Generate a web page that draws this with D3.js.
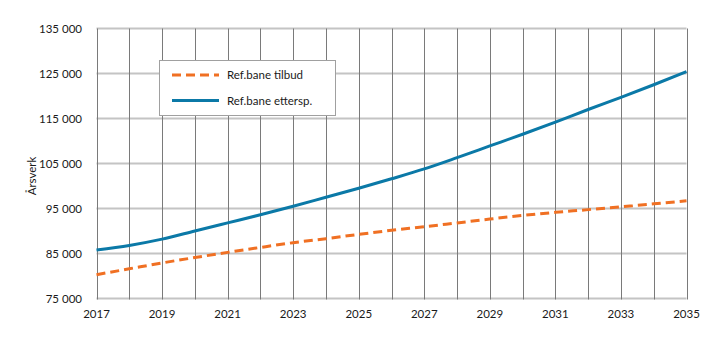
<!DOCTYPE html>
<html><head><meta charset="utf-8">
<script src="https://cdn.jsdelivr.net/npm/d3@7"></script>
<style>body{margin:0;background:#fff}svg{display:block}text{font-family:Lato,"Open Sans",sans-serif;fill:#1a1a1a}</style>
</head><body><svg id="c" width="719" height="341"></svg>
<script>
const years = d3.range(2017, 2036);
const tilbud = [80300,81600,82900,84100,85250,86350,87400,88300,89250,90150,90950,91800,92650,93450,94150,94750,95400,96050,96700];
const ettersp = [85800,86800,88200,90000,91800,93600,95500,97500,99500,101600,103800,106300,108900,111500,114200,117000,119700,122500,125400];
const yTicks = [75000,85000,95000,105000,115000,125000,135000];
const xTickLabels = [2017,2019,2021,2023,2025,2027,2029,2031,2033,2035];
const seriesNames = ["Ref.bane tilbud","Ref.bane ettersp."];

const svg = d3.select("#c");
const x = d3.scaleLinear().domain([2017,2035]).range([96.5,686.5]);
const y = d3.scaleLinear().domain([75000,135000]).range([298.5,28.5]);
const fmt = v => d3.format(",")(v).replace(/,/g," ");

const g = svg.append("g");
g.selectAll("line.h").data(yTicks).join("line")
  .attr("x1",x(2017)).attr("x2",x(2035)).attr("y1",d=>y(d)).attr("y2",d=>y(d))
  .attr("stroke","#c4c4c4").attr("stroke-width",2);
g.selectAll("line.v").data(years).join("line")
  .attr("x1",d=>Math.round(x(d))+0.5).attr("x2",d=>Math.round(x(d))+0.5).attr("y1",y(135000)).attr("y2",y(75000)+1)
  .attr("stroke","#7a7a7a").attr("stroke-width",1);

g.selectAll("text.y").data(yTicks).join("text")
  .attr("x",82).attr("y",d=>y(d)).attr("dy","0.35em").attr("text-anchor","end")
  .attr("font-size",11.5).text(fmt);
g.selectAll("text.x").data(xTickLabels).join("text")
  .attr("x",d=>x(d)).attr("y",318).attr("text-anchor","middle")
  .attr("font-size",11.5).text(d=>d);
svg.append("text").attr("transform","translate(36,176) rotate(-90)")
  .attr("text-anchor","middle").attr("font-size",11.5).text("Årsverk");

const line = d3.line().x((d,i)=>x(years[i])).y(d=>y(d)).curve(d3.curveMonotoneX);
svg.append("path").attr("d",line(tilbud)).attr("fill","none")
  .attr("stroke","#f07023").attr("stroke-width",3).attr("stroke-dasharray","9,5");
svg.append("path").attr("d",line(ettersp)).attr("fill","none")
  .attr("stroke","#0b79a7").attr("stroke-width",3);

const lg = svg.append("g");
lg.append("rect").attr("x",159.5).attr("y",60.5).attr("width",176).attr("height",55)
  .attr("fill","#fff").attr("stroke","#a0a0a0").attr("stroke-width",1);
const items = [{n:seriesNames[0],c:"#f07023",d:"9,5",y:75},{n:seriesNames[1],c:"#0b79a7",d:null,y:100.5}];
items.forEach(it=>{
  lg.append("line").attr("x1",172).attr("x2",219).attr("y1",it.y).attr("y2",it.y)
    .attr("stroke",it.c).attr("stroke-width",3).attr("stroke-dasharray",it.d);
  lg.append("text").attr("x",227).attr("y",it.y).attr("dy","0.35em").attr("font-size",11.5).text(it.n);
});
</script></body></html>
